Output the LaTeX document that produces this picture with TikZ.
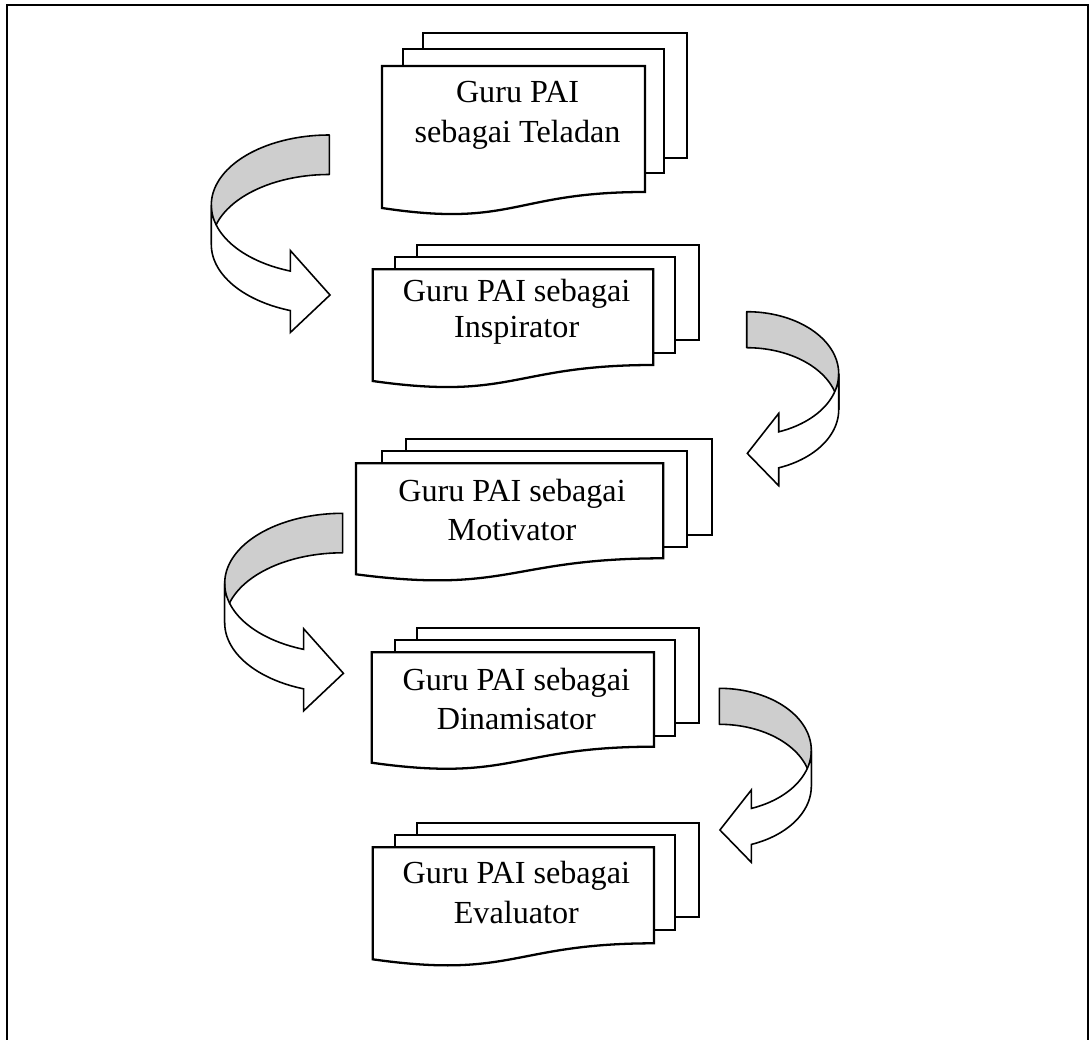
\documentclass[tikz,border=0pt]{standalone}
\usepackage{fontspec}
\setmainfont{Liberation Serif}
\definecolor{ribbongray}{RGB}{206,206,206}
\tikzset{
  sheet/.style={draw=black, fill=white, line width=1.3pt, line join=miter},
  ribbonback/.style={draw=black, fill=ribbongray, line width=0.9pt, line join=round},
  ribbonfront/.style={draw=black, fill=white, line width=0.9pt, line join=miter},
  doctext/.style={align=center, inner sep=0pt, anchor=base},
}
% one stacked document: front sheet (left, top, right, right-bottom)
\newcommand{\frontsheet}[4]{%
  \draw[sheet] (#1,#2) -- (#3,#2) -- (#3,#4)
    .. controls ({(#1+#3)/2},#4) and ({(#1+#3)/2},{#4+36}) .. (#1,{#4+16}) -- cycle;}
% a sheet lying behind (left, top, right, bottom)
\newcommand{\rearsheet}[4]{%
  \draw[sheet] (#1,#2) rectangle (#3,#4);}
% ribbon arrow turning down on the left side; (#1,#2) is its upper right corner
\newcommand{\curlleft}[2]{%
  \draw[ribbonback] (#1,#2)
    -- plot[domain=270:180,samples=40] ({#1+118*cos(\x)},{#2+70+70*sin(\x)})
    -- plot[domain=180:270,samples=40] ({#1+118*cos(\x)},{#2+109.5+70*sin(\x)})
    -- cycle;
  \draw[ribbonfront]
    plot[domain=180:109.3,samples=40] ({#1+118*cos(\x)},{#2+70+70*sin(\x)})
    -- ({#1-39},{#2+115.5}) -- ({#1+0.7},{#2+160}) -- ({#1-39},{#2+197.5})
    -- plot[domain=109.3:180,samples=40] ({#1+118*cos(\x)},{#2+109.5+70*sin(\x)})
    -- cycle;}
% ribbon arrow turning down on the right side; (#1,#2) is its upper left corner
\newcommand{\curlright}[2]{%
  \draw[ribbonback] (#1,#2)
    -- plot[domain=270:360,samples=40] ({#1+92*cos(\x)},{#2+62+62*sin(\x)})
    -- plot[domain=360:270,samples=40] ({#1+92*cos(\x)},{#2+98+62*sin(\x)})
    -- cycle;
  \draw[ribbonfront]
    plot[domain=0:69.6,samples=40] ({#1+92*cos(\x)},{#2+62+62*sin(\x)})
    -- ({#1+32},{#2+101.7}) -- ({#1+0.6},{#2+141.7}) -- ({#1+32},{#2+174})
    -- plot[domain=69.6:0,samples=40] ({#1+92*cos(\x)},{#2+98+62*sin(\x)})
    -- cycle;}
\begin{document}
\begin{tikzpicture}[x=0.02cm, y=-0.02cm]
  \useasboundingbox (0,0) rectangle (1091,1040);
  % outer frame
  \draw[line width=1.5pt] (7,1040) -- (7,5) -- (1088,5) -- (1088,1040);

  % Teladan
  \rearsheet{423}{33}{687}{158}
  \rearsheet{403}{49.3}{664}{173}
  \frontsheet{382}{66}{645}{192}
  \node[doctext, font=\fontsize{18.3}{23.3}\selectfont] (teladan) at (517.5,143)
    {Guru PAI\\sebagai Teladan};

  % Inspirator
  \rearsheet{417.3}{245}{699.3}{340}
  \rearsheet{395}{257.3}{675}{352.7}
  \frontsheet{372.7}{269.3}{653.3}{365}
  \node[doctext, font=\fontsize{18.3}{20.5}\selectfont] (inspirator) at (516.7,337.3)
    {Guru PAI sebagai\\Inspirator};

  % Motivator
  \rearsheet{405.7}{439.3}{711.7}{535}
  \rearsheet{381.7}{451}{686.7}{546.7}
  \frontsheet{356}{463.3}{663.3}{558.3}
  \node[doctext, font=\fontsize{18.3}{21.8}\selectfont] (motivator) at (512,540)
    {Guru PAI sebagai\\Motivator};

  % Dinamisator
  \rearsheet{417.3}{628.3}{699.3}{723.3}
  \rearsheet{395}{640}{675}{736}
  \frontsheet{371.7}{652.3}{654}{746.7}
  \node[doctext, font=\fontsize{18.3}{22.2}\selectfont] (dinamisator) at (516.3,729)
    {Guru PAI sebagai\\Dinamisator};

  % Evaluator
  \rearsheet{417.3}{822.7}{699.3}{917.3}
  \rearsheet{395}{835}{675}{930}
  \frontsheet{372.7}{847.3}{654}{943.3}
  \node[doctext, font=\fontsize{18.3}{22.8}\selectfont] (evaluator) at (516.3,923.3)
    {Guru PAI sebagai\\Evaluator};

  % curved block arrows between the stages
  \curlleft{329.3}{135}
  \curlright{746.7}{311.7}
  \curlleft{342.7}{513.3}
  \curlright{719.3}{688.3}
\end{tikzpicture}
\end{document}
